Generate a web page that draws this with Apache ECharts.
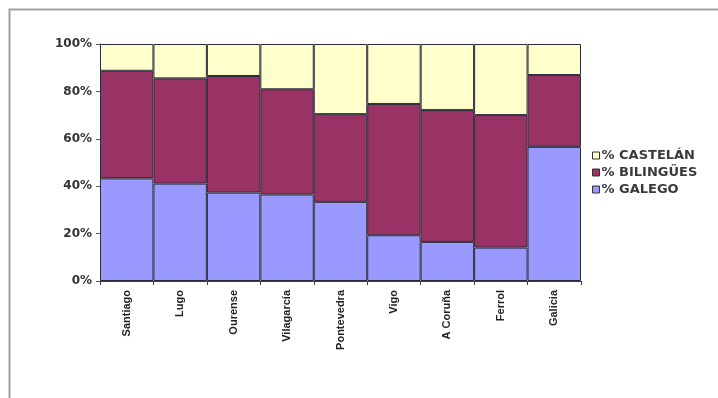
<!DOCTYPE html>
<html>
<head>
<meta charset="utf-8">
<script src="https://cdn.jsdelivr.net/npm/echarts@6/dist/echarts.min.js"></script>
<style>
  html, body { margin: 0; padding: 0; background: #fff; }
  #chart { width: 718px; height: 398px; }
</style>
</head>
<body>
<div id="chart"></div>
<script>
// Language use by city (% of population)
const cities = ['Santiago', 'Lugo', 'Ourense', 'Vilagarcía', 'Pontevedra', 'Vigo', 'A Coruña', 'Ferrol', 'Galicia'];
const galego   = [43.3, 41.1, 37.3, 36.5, 33.4, 19.3, 16.5, 14.1, 56.6];
const bilingue = [45.4, 44.4, 49.2, 44.4, 37.0, 55.4, 55.6, 55.9, 30.3];
const castelan = [11.3, 14.5, 13.5, 19.1, 29.6, 25.3, 27.9, 30.0, 13.1];
const seriesNames = ['% GALEGO', '% BILINGÜES', '% CASTELÁN'];
const yTicks = [0, 20, 40, 60, 80, 100];

const catFont = 'Liberation Sans, Arial, sans-serif';
const wideFont = 'DejaVu Sans, Verdana, sans-serif';
const colors = ['#9999ff', '#993366', '#ffffcc'];

function barSeries(name, data, color) {
  return {
    name: name,
    type: 'bar',
    stack: 'total',
    data: data,
    barCategoryGap: 0,
    itemStyle: { color: color, borderColor: '#2a2a3a', borderWidth: 1 },
    emphasis: { disabled: true }
  };
}

const chart = echarts.init(document.getElementById('chart'), null, { renderer: 'canvas' });
chart.setOption({
  animation: false,
  backgroundColor: '#ffffff',
  graphic: [{
    type: 'rect',
    shape: { x: 9.5, y: 9.5, width: 900, height: 600 },
    style: { fill: 'none', stroke: '#a0a0a0', lineWidth: 2 },
    silent: true
  }],
  grid: { left: 100, right: 137, top: 44, bottom: 117, containLabel: false },
  legend: {
    orient: 'vertical',
    left: 587,
    top: 144,
    itemWidth: 7,
    itemHeight: 7,
    itemGap: 4,
    icon: 'rect',
    data: [seriesNames[2], seriesNames[1], seriesNames[0]],
    itemStyle: { borderColor: '#333', borderWidth: 1 },
    textStyle: { fontFamily: wideFont, fontSize: 13, fontWeight: 'bold', color: '#3a3a3a', padding: [0, 0, 0, -3] }
  },
  xAxis: {
    type: 'category',
    data: cities,
    axisLine: { lineStyle: { color: '#3a3a5a', width: 1 } },
    axisTick: { show: true, length: 4, lineStyle: { color: '#3a3a5a' } },
    axisLabel: {
      rotate: 90,
      margin: 9,
      fontFamily: catFont,
      fontSize: 11,
      fontWeight: 'bold',
      color: '#222'
    }
  },
  yAxis: {
    type: 'value',
    min: yTicks[0],
    max: yTicks[yTicks.length - 1],
    interval: 20,
    splitLine: { show: false },
    axisLine: { show: true, lineStyle: { color: '#555', width: 1 } },
    axisTick: { show: true, length: 4, lineStyle: { color: '#555' } },
    axisLabel: {
      formatter: '{value}%',
      margin: 8,
      fontFamily: wideFont,
      fontSize: 12,
      fontWeight: 'bold',
      color: '#333'
    }
  },
  series: [
    barSeries(seriesNames[0], galego, colors[0]),
    barSeries(seriesNames[1], bilingue, colors[1]),
    barSeries(seriesNames[2], castelan, colors[2])
  ]
});
</script>
</body>
</html>
